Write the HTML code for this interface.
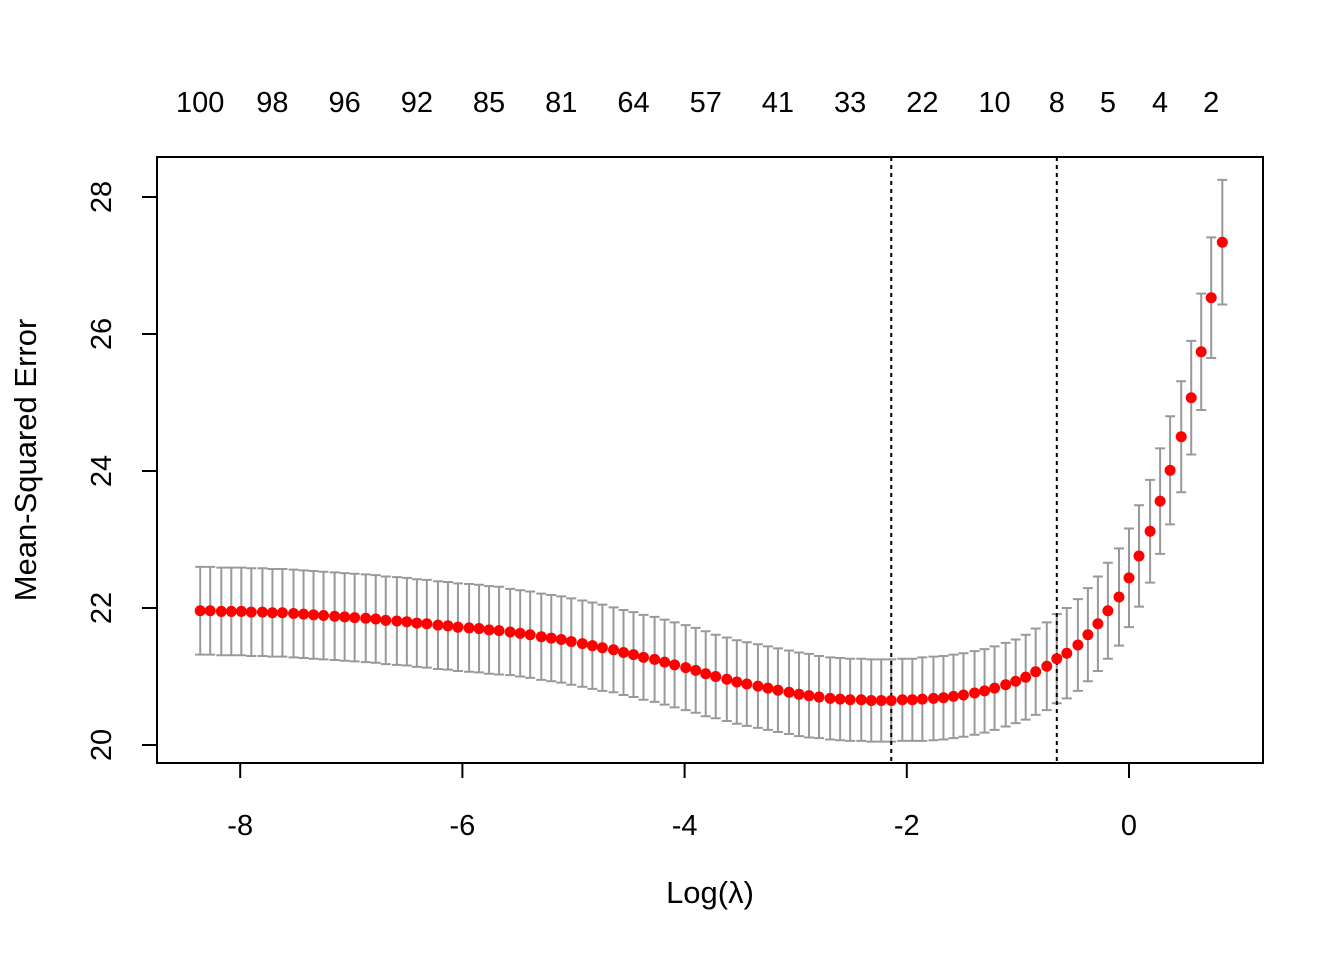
<!DOCTYPE html>
<html><head><meta charset="utf-8"><style>
html,body{margin:0;padding:0;background:#fff;}
svg{display:block;font-family:"Liberation Sans",Arial,sans-serif;}
</style></head><body>
<svg id="chart" width="1344" height="960" viewBox="0 0 1344 960" xmlns="http://www.w3.org/2000/svg"></svg>
<script>
const logLambda=[-8.36,-8.27,-8.17,-8.08,-7.99,-7.90,-7.80,-7.71,-7.62,-7.52,-7.43,-7.34,-7.25,-7.15,-7.06,-6.97,-6.87,-6.78,-6.69,-6.59,-6.50,-6.41,-6.32,-6.22,-6.13,-6.04,-5.94,-5.85,-5.76,-5.67,-5.57,-5.48,-5.39,-5.29,-5.20,-5.11,-5.02,-4.92,-4.83,-4.74,-4.64,-4.55,-4.46,-4.37,-4.27,-4.18,-4.09,-3.99,-3.90,-3.81,-3.72,-3.62,-3.53,-3.44,-3.34,-3.25,-3.16,-3.06,-2.97,-2.88,-2.79,-2.69,-2.60,-2.51,-2.41,-2.32,-2.23,-2.14,-2.04,-1.95,-1.86,-1.76,-1.67,-1.58,-1.49,-1.39,-1.30,-1.21,-1.11,-1.02,-0.93,-0.84,-0.74,-0.65,-0.56,-0.46,-0.37,-0.28,-0.19,-0.09,0.00,0.09,0.19,0.28,0.37,0.47,0.56,0.65,0.74,0.84];
const cvm=[21.96,21.96,21.95,21.95,21.95,21.94,21.94,21.93,21.93,21.92,21.91,21.90,21.89,21.88,21.87,21.86,21.85,21.84,21.82,21.81,21.80,21.78,21.77,21.75,21.74,21.72,21.71,21.70,21.68,21.67,21.65,21.63,21.61,21.58,21.56,21.54,21.51,21.48,21.45,21.42,21.39,21.35,21.32,21.28,21.25,21.21,21.17,21.13,21.09,21.04,21.00,20.96,20.92,20.89,20.86,20.83,20.80,20.77,20.74,20.72,20.70,20.68,20.67,20.66,20.66,20.65,20.65,20.65,20.66,20.66,20.67,20.68,20.69,20.71,20.73,20.76,20.79,20.83,20.88,20.93,20.99,21.07,21.15,21.26,21.34,21.46,21.61,21.77,21.96,22.16,22.44,22.76,23.12,23.56,24.01,24.50,25.07,25.74,26.53,27.34];
const cvsd=[0.64,0.64,0.64,0.64,0.64,0.64,0.64,0.64,0.64,0.64,0.64,0.64,0.64,0.64,0.64,0.64,0.64,0.64,0.64,0.64,0.64,0.64,0.64,0.64,0.64,0.64,0.64,0.64,0.64,0.64,0.63,0.63,0.63,0.63,0.63,0.63,0.63,0.63,0.63,0.63,0.62,0.62,0.62,0.62,0.62,0.62,0.62,0.62,0.62,0.62,0.61,0.61,0.61,0.61,0.61,0.61,0.61,0.61,0.61,0.61,0.60,0.60,0.60,0.60,0.60,0.60,0.60,0.60,0.60,0.60,0.61,0.61,0.61,0.61,0.61,0.61,0.61,0.61,0.61,0.61,0.62,0.63,0.64,0.65,0.66,0.67,0.68,0.69,0.70,0.71,0.72,0.74,0.75,0.77,0.79,0.81,0.83,0.85,0.88,0.91];
const topIdx=[0,7,14,21,28,35,42,49,56,63,70,77,83,88,93,98];
const topLabels=["100","98","96","92","85","81","64","57","41","33","22","10","8","5","4","2"];
const xTicks=[-8,-6,-4,-2,0];
const yTicks=[20,22,24,26,28];
const lambdaMinIdx=67, lambda1seIdx=83;

const NS="http://www.w3.org/2000/svg";
const svg=document.getElementById('chart');
const X=v=>1129+v*111.1;
const Y=v=>745-(v-20)*68.5;
function mk(tag,attrs,parent){const e=document.createElementNS(NS,tag);for(const k in attrs)e.setAttribute(k,attrs[k]);(parent||svg).appendChild(e);return e;}

const bars=mk('g',{stroke:'#999999','stroke-width':2,fill:'none'});


logLambda.forEach((l,i)=>{
  const x=X(l),yu=Y(cvm[i]+cvsd[i]),yl=Y(cvm[i]-cvsd[i]);
  const p=mk('path',{d:`M${x},${yu}V${yl}M${x-5},${yu}H${x+5}M${x-5},${yl}H${x+5}`},bars);
  
  
});
[lambdaMinIdx,lambda1seIdx].forEach((idx,k)=>{
  const x=X(logLambda[idx]);
  const ln=mk('line',{x1:x,x2:x,y1:157,y2:763,stroke:'#000','stroke-width':2,'stroke-dasharray':'4,4'});
  
  
});
const pts=mk('g',{fill:'#ff0000'});


logLambda.forEach((l,i)=>{
  const c=mk('circle',{cx:X(l),cy:Y(cvm[i]),r:5.5},pts);
  
  
});
const box=mk('rect',{x:157,y:157,width:1106,height:606,fill:'none',stroke:'#000','stroke-width':2});


const xa=mk('g',{});


mk('line',{x1:X(-8),x2:X(0),y1:763,y2:763,stroke:'#000','stroke-width':2},xa);
xTicks.forEach(t=>{
  mk('line',{x1:X(t),x2:X(t),y1:763,y2:778,stroke:'#000','stroke-width':2},xa);
  const tx=mk('text',{x:X(t),y:835,'text-anchor':'middle','font-size':29},xa);
  tx.textContent=String(t);
  
  
});
const ya=mk('g',{});


mk('line',{x1:157,x2:157,y1:Y(20),y2:Y(28),stroke:'#000','stroke-width':2},ya);
yTicks.forEach(t=>{
  mk('line',{x1:142,x2:157,y1:Y(t),y2:Y(t),stroke:'#000','stroke-width':2},ya);
  const tx=mk('text',{x:0,y:0,'text-anchor':'middle','font-size':29,transform:`translate(111,${Y(t)}) rotate(-90)`},ya);
  tx.textContent=String(t);
  
  
});
const ta=mk('g',{});


topIdx.forEach((idx,k)=>{
  const tx=mk('text',{x:X(logLambda[idx]),y:112,'text-anchor':'middle','font-size':29},ta);
  tx.textContent=topLabels[k];
  
  
});
const xt=mk('text',{x:710,y:903,'text-anchor':'middle','font-size':31});
xt.textContent='Log(λ)';


const yt=mk('text',{x:0,y:0,'text-anchor':'middle','font-size':31,transform:'translate(36,460) rotate(-90)'});
yt.textContent='Mean-Squared Error';


</script>
</body></html>
